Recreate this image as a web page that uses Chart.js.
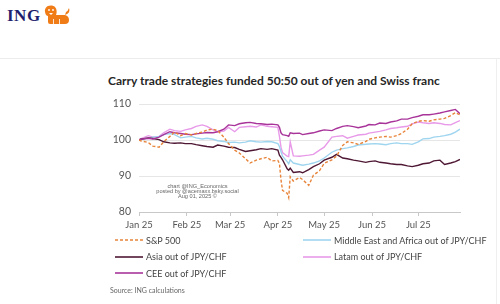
<!DOCTYPE html>
<html><head><meta charset="utf-8">
<script src="https://cdn.jsdelivr.net/npm/chart.js@4"></script>
<style>
html,body{margin:0;padding:0;}
body{width:500px;height:304px;background:#fff;position:relative;overflow:hidden;font-family:Lato,"Open Sans",sans-serif;}
#logo{position:absolute;left:7px;top:6px;font-family:"Liberation Serif","DejaVu Serif",serif;font-weight:bold;font-size:17px;color:#1f1f6e;letter-spacing:0.5px;}
#lion{position:absolute;left:44px;top:5px;}
#sep{position:absolute;left:0;top:58px;width:500px;height:1px;background:#ececec;}
#rb{position:absolute;left:496px;top:58px;width:1px;height:246px;background:#efefef;}
#title{position:absolute;left:108px;top:73px;font-size:12px;font-weight:bold;color:#262626;white-space:nowrap;}
#wrap{position:absolute;left:100px;top:96px;width:365px;height:140px;}
#wm{position:absolute;left:150px;top:184px;width:95px;text-align:center;font-family:"Liberation Sans",Arial,sans-serif;font-size:5.6px;line-height:5px;color:#666;}
.li{position:absolute;height:14px;display:flex;align-items:center;font-size:9px;color:#444;white-space:nowrap;}
.li svg{margin-right:3px;}
#src{position:absolute;left:110px;top:286px;font-size:7px;color:#666;}
</style></head><body>
<div id="logo">ING</div>
<svg id="lion" width="27" height="20" viewBox="0 0 27 20">
 <g fill="#f07c17">
  <path d="M7 0.5 C2 0.5 0.5 4 1 7 C1.5 10 3 11 4 11 L4 17 Q4 19 6 19 L21 19 Q25 19 25 15 Q25 11 21 10 L12 10 C13 8 13 4 11 2 C10 1 8.5 0.5 7 0.5 Z"/>
  <path d="M21 10 Q27 8 25 3 Q24 6 22 7 Z"/>
 </g>
 <g fill="#fff"><circle cx="5" cy="5" r="0.9"/><circle cx="9" cy="5" r="0.9"/><path d="M5 8 L9 8 L7 10 Z"/><rect x="9" y="14" width="0.8" height="5"/><rect x="15" y="14" width="0.8" height="5"/></g>
</svg>
<div id="sep"></div><div id="rb"></div>
<div id="title">Carry trade strategies funded 50:50 out of yen and Swiss franc</div>
<div id="wrap"><canvas id="c" width="365" height="140"></canvas></div>
<div id="wm">chart @ING_Economics<br>posted by @acemaxx.bsky.social<br>Aug 01, 2025 ©</div>
<div id="legend"></div>
<div id="src">Source: ING calculations</div>
<script>
const dates = ["2025-01-01","2025-01-02","2025-01-07","2025-01-10","2025-01-14","2025-01-17","2025-01-21","2025-01-24","2025-01-28","2025-01-31",
"2025-02-04","2025-02-07","2025-02-11","2025-02-14","2025-02-18","2025-02-21","2025-02-25","2025-02-28",
"2025-03-04","2025-03-07","2025-03-11","2025-03-14","2025-03-18","2025-03-21","2025-03-25","2025-03-28",
"2025-04-01","2025-04-02","2025-04-03","2025-04-04","2025-04-07","2025-04-08","2025-04-09","2025-04-11","2025-04-15","2025-04-17","2025-04-21","2025-04-24","2025-04-28",
"2025-05-01","2025-05-06","2025-05-09","2025-05-13","2025-05-16","2025-05-20","2025-05-23","2025-05-28","2025-05-30",
"2025-06-03","2025-06-06","2025-06-10","2025-06-13","2025-06-17","2025-06-20","2025-06-24","2025-06-27",
"2025-07-01","2025-07-04","2025-07-08","2025-07-11","2025-07-15","2025-07-18","2025-07-22","2025-07-25","2025-07-28"];

const sp500 = [100,99.8,99.3,98.3,98.0,99.5,101.0,102.2,101.2,101.8,101.4,101.8,102.2,102.8,103.0,102.6,100.8,99.0,97.2,96.4,94.8,93.6,94.4,94.8,95.2,94.2,94.3,93.5,89.0,86.0,85.2,84.0,89.8,88.6,89.6,89.0,87.4,90.2,91.5,93.5,94.5,95.5,98.5,99.5,99.2,98.8,99.6,100.2,100.6,100.8,101.0,100.8,101.2,101.8,103.0,104.5,105.2,105.4,105.2,105.6,105.8,106.0,106.8,107.6,107.0];
const mea = [100,100.2,100.5,100.8,101.0,101.5,101.8,101.5,100.6,100.8,101.0,100.6,100.3,100.5,100.2,99.8,99.6,99.3,99.4,99.2,99.4,99.8,99.5,99.4,99.6,99.5,99.0,98.2,96.8,95.5,94.0,93.4,94.5,93.6,93.2,93.0,93.3,93.6,94.2,95.0,96.6,97.2,97.6,97.8,98.2,98.6,98.8,98.9,99.0,98.9,98.7,99.0,99.2,99.0,99.0,98.8,99.5,100.3,100.4,100.8,101.0,101.2,101.6,102.2,103.0];
const asia = [100,100.2,100.6,100.4,100.1,99.5,99.2,99.1,99.2,99.0,99.0,98.7,98.4,98.2,98.0,98.6,98.3,98.0,97.9,97.4,96.8,97.0,97.3,97.6,97.4,97.6,97.2,95.8,95.2,94.5,92.0,91.6,92.2,91.0,91.2,90.9,91.8,92.6,93.4,94.4,95.2,96.0,95.0,94.8,94.4,94.2,93.8,94.0,94.2,93.8,93.6,93.4,93.2,93.2,92.8,92.6,93.0,93.4,93.6,94.2,94.4,93.2,93.6,94.0,94.6];
const latam = [100,100.3,101.2,100.8,101.0,102.0,103.0,102.6,102.4,102.8,103.2,103.8,104.2,103.8,102.8,102.3,102.5,103.5,102.3,103.5,103.7,103.8,103.6,104.2,103.8,103.7,103.5,101.0,98.0,96.5,95.5,95.4,99.5,95.6,95.5,95.6,95.8,96.0,97.2,98.0,100.8,101.0,101.2,100.5,101.0,101.4,101.6,101.9,102.2,102.4,102.8,103.2,103.4,103.6,103.8,104.5,105.0,104.8,104.6,104.8,104.6,104.3,104.2,104.8,105.4];
const cee = [100,100.2,100.5,100.3,100.8,101.5,102.3,102.0,101.8,101.6,101.5,101.7,101.9,102.1,102.0,102.3,103.0,104.2,104.0,104.5,104.8,104.9,104.6,104.5,104.3,104.4,104.2,103.5,102.0,101.5,101.2,101.0,102.0,101.8,101.9,101.5,101.8,102.0,102.5,102.8,102.6,103.2,103.8,104.0,103.7,103.4,103.9,104.3,104.2,104.7,104.6,105.0,105.3,105.8,105.8,106.2,106.6,107.0,107.0,107.2,107.5,107.8,108.2,108.5,107.3];

const seriesNames = ["S&P 500","Middle East and Africa out of JPY/CHF","Asia out of JPY/CHF","Latam out of JPY/CHF","CEE out of JPY/CHF"];
const monthTickDates = ["2025-01-01","2025-02-01","2025-03-01","2025-04-01","2025-05-01","2025-06-01","2025-07-01"];
const monthTickLabels = ["Jan 25","Feb 25","Mar 25","Apr 25","May 25","Jun 25","Jul 25"];
const yTicks = [80,90,100,110];
const xEnd = "2025-07-28";

function dayOf(s){const p=s.split('-').map(Number);return (Date.UTC(p[0],p[1]-1,p[2])-Date.UTC(2025,0,1))/864e5;}
const xs = dates.map(dayOf);
const tickDays = monthTickDates.map(dayOf);
const pts = arr => arr.map((v,i)=>({x:xs[i],y:v}));

const colors = ["#e8843a","#9fd5ef","#4e1733","#e89ae9","#a8349a"];
const dashes = [[3,2],[],[],[],[]];
const drawOrder = [0,3,2,4,1];
const vals = [sp500,mea,asia,latam,cee];
const datasets = vals.map((v,i)=>({label:seriesNames[i],data:pts(v),borderColor:colors[i],borderDash:dashes[i],borderWidth:1.4,pointRadius:0,tension:0,fill:false,order:drawOrder[i]}));

const chart = new Chart(document.getElementById('c'),{
  type:'line',
  data:{datasets},
  options:{
    responsive:false,animation:false,devicePixelRatio:1,
    layout:{padding:{top:8,right:5,left:0,bottom:0}},
    plugins:{legend:{display:false},tooltip:{enabled:false}},
    scales:{
      x:{type:'linear',min:0,max:dayOf(xEnd),
        afterBuildTicks:s=>{s.ticks=tickDays.map(v=>({value:v}));},
        afterFit:s=>{s.height=24;s.paddingLeft=0;s.paddingRight=0;},
        ticks:{font:{family:"Lato",size:9.5},color:'#555',padding:3,maxRotation:0,autoSkip:false,
          callback:v=>{const k=tickDays.indexOf(v);return k>=0?monthTickLabels[k]:'';}},
        grid:{drawOnChartArea:false,tickLength:4,color:'#c8c8c8'},
        border:{color:'#c8c8c8'}},
      y:{min:yTicks[0],max:yTicks[yTicks.length-1],
        afterBuildTicks:s=>{s.ticks=yTicks.map(v=>({value:v}));},
        afterFit:s=>{s.width=39;s.paddingTop=0;s.paddingBottom=0;},
        ticks:{font:{family:"Lato",size:10.5},color:'#555',padding:8},
        grid:{color:'#e6e6e6',drawTicks:false},
        border:{display:false}}
    }
  }
});

// HTML legend built from the datasets
const lg = document.getElementById('legend');
chart.data.datasets.forEach((d,i)=>{
  const col=i%2,row=Math.floor(i/2);
  const el=document.createElement('div');
  el.className='li';
  el.style.left=(col?303:115)+'px';
  el.style.top=(233+row*16.5)+'px';
  const dash=(d.borderDash&&d.borderDash.length)?`stroke-dasharray="${d.borderDash.join(' ')}"`:'';
  el.innerHTML=`<svg width="28" height="4"><line x1="0" y1="2" x2="28" y2="2" stroke="${d.borderColor}" stroke-width="1.6" ${dash}/></svg><span>${d.label.replace('&','&amp;')}</span>`;
  lg.appendChild(el);
});
</script>
</body></html>
